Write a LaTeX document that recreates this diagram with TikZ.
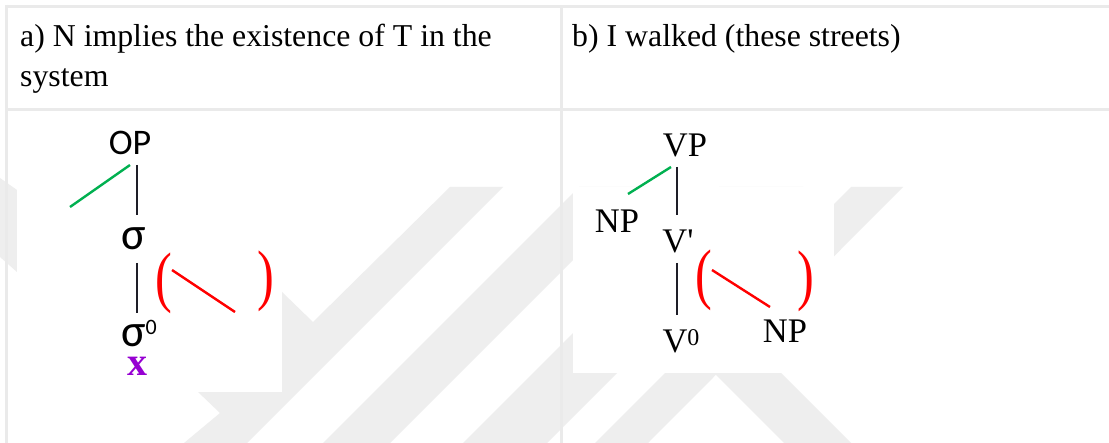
\documentclass[tikz,border=0pt]{standalone}
\usepackage{fontspec}
\setmainfont{Liberation Serif}
\newfontfamily\carl{Carlito}
\definecolor{wm}{RGB}{238,238,238}
\definecolor{tl}{RGB}{234,234,234}
\definecolor{grn}{RGB}{0,176,80}
\definecolor{prp}{RGB}{150,0,210}
\definecolor{ink}{RGB}{30,30,40}
\tikzset{
  lbl/.style={inner sep=0pt, anchor=base},
  head/.style={inner sep=0pt, anchor=base west, font=\fontsize{31.8}{36}\selectfont},
  sanslbl/.style={lbl, font=\carl\fontsize{36}{40}\selectfont},
  seriflbl/.style={lbl, font=\fontsize{34.5}{38}\selectfont},
  branch/.style={draw=ink, line width=2.4pt},
  gbranch/.style={draw=grn, line width=2.4pt},
  rbranch/.style={draw=red, line width=2.4pt},
  paren/.style={inner sep=0pt, anchor=center, text=red, font=\fontsize{56}{56}\selectfont},
  wmark/.style={fill=wm, draw=none},
  tline/.style={draw=tl, line width=2.7pt}
}
\begin{document}
\begin{tikzpicture}[x=1pt,y=-1pt]
\useasboundingbox (0,0) rectangle (1109,443);
\fill[white] (0,0) rectangle (1109,443);
% watermark
\begin{scope}
\clip (0,0) rectangle (1109,443);
\fill[wmark] (0,178) -- (17,190) -- (17,272) -- (0,257) -- cycle;
\fill[wmark] (282,292) -- (313,322) -- (450,187) -- (503,187) -- (247,443) -- (184,443) -- (220,413) -- (198,392) -- (282,392) -- cycle;
\fill[wmark] (579,187) -- (646,187) -- (390,443) -- (323,443) -- cycle;
\fill[wmark] (719,187) -- (803,187) -- (547,443) -- (463,443) -- cycle;
\fill[wmark] (851,187) -- (903,187) -- (648,443) -- (595,443) -- cycle;
\fill[wmark] (641,300) -- (708,300) -- (851,443) -- (784,443) -- cycle;
\end{scope}
\fill[white] (17,187) rectangle (282,392);
\fill[white] (573,187) rectangle (834,373);
% table rules
\draw[tline] (5,6.2) -- (1109,6.2);
\draw[tline] (6.2,5) -- (6.2,443);
\draw[tline] (6.2,109.7) -- (1109,109.7);
\draw[tline] (561.3,6.2) -- (561.3,443);
% header texts
\node[head] (ha1) at (20,47) {a) N implies the existence of T in the};
\node[head] (ha2) at (20,87) {system};
\node[head] (hb) at (572,47) {b) I walked (these streets)};
% tree a
\node[sanslbl] (OP) at (130,155) {OP};
\node[lbl, font=\carl\fontsize{46}{46}\selectfont] (sig) at (134,250) {σ};
\node[lbl, text depth=0pt, font=\carl\fontsize{46}{46}\selectfont] (sig0) at (139,347) {σ\raisebox{12pt}{\fontsize{22}{22}\selectfont 0}};
\node[lbl, font=\bfseries\fontsize{40}{40}\selectfont, text=prp] (xa) at (137,376) {x};
\coordinate (a1) at (137,165);
\coordinate (a2) at (137,215);
\coordinate (a3) at (137,263);
\coordinate (a4) at (137,313);
\coordinate (ag) at (70,207);
\coordinate (ar1) at (172,270);
\coordinate (ar2) at (235,312);
\draw[branch] (a1) -- (a2);
\draw[branch] (a3) -- (a4);
\draw[gbranch] ([xshift=-7pt]a1) -- (ag);
\draw[rbranch] (ar1) -- (ar2);
\node[paren] (pa1) at (164,283) {\scalebox{0.9}[1.2]{(}};
\node[paren] (pa2) at (266,281) {\scalebox{0.9}[1.2]{)}};
% tree b
\node[seriflbl] (VP) at (685,157) {VP};
\node[seriflbl] (NPl) at (617,233) {NP};
\node[seriflbl] (Vb) at (678,253) {V\textquotesingle};
\node[seriflbl] (V0) at (681,353) {V\raisebox{7pt}{\fontsize{24}{24}\selectfont 0}};
\node[seriflbl] (NPr) at (785,343) {NP};
\coordinate (b1) at (677,167);
\coordinate (b2) at (677,215);
\coordinate (b3) at (677,263);
\coordinate (b4) at (677,315);
\coordinate (bg) at (628,194);
\coordinate (br1) at (712,270);
\coordinate (br2) at (770,307);
\draw[branch] (b1) -- (b2);
\draw[branch] (b3) -- (b4);
\draw[gbranch] ([xshift=-6pt]b1) -- (bg);
\draw[rbranch] (br1) -- (br2);
\node[paren] (pb1) at (704,280) {\scalebox{0.9}[1.2]{(}};
\node[paren] (pb2) at (806,281) {\scalebox{0.9}[1.2]{)}};
\end{tikzpicture}
\end{document}
